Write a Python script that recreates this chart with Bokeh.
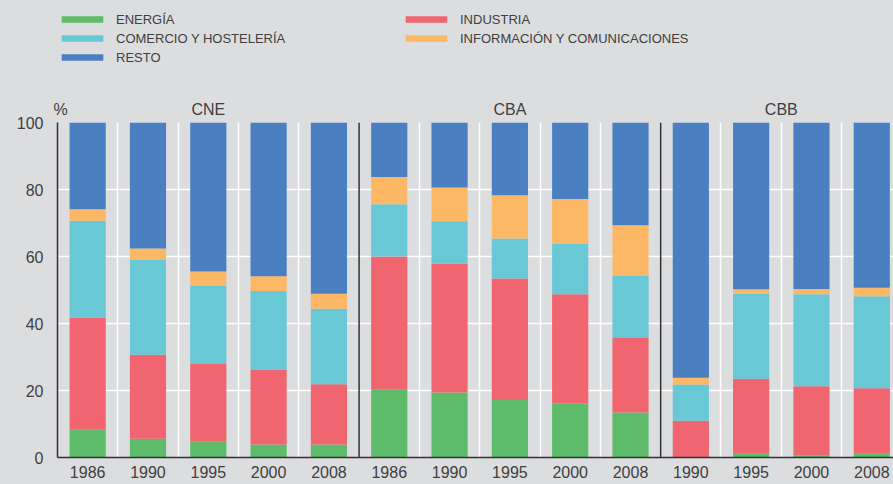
from bokeh.plotting import figure
from bokeh.layouts import column
from bokeh.models import (ColumnDataSource, FixedTicker, Span, Legend, LegendItem,
                          LinearAxis)
from bokeh.embed import file_html
from bokeh.resources import INLINE

# ---- data (%) ----
groups = ["CNE", "CBA", "CBB"]
group_years = [
    ["1986", "1990", "1995", "2000", "2008"],
    ["1986", "1990", "1995", "2000", "2008"],
    ["1990", "1995", "2000", "2008"],
]
energia = [8.3, 5.6, 4.7, 3.9, 3.9,
           20.2, 19.4, 17.2, 16.1, 13.4,
           0.0, 1.1, 0.7, 1.1]
industria = [33.5, 25.1, 23.2, 22.4, 18.0,
             39.8, 38.4, 36.2, 32.6, 22.3,
             11.0, 22.4, 20.6, 19.6]
comercio = [28.9, 28.4, 23.3, 23.4, 22.5,
            15.6, 12.7, 12.0, 15.1, 18.5,
            10.8, 25.4, 27.4, 27.4]
informacion = [3.4, 3.3, 4.3, 4.4, 4.5,
               8.1, 10.1, 12.9, 13.4, 15.1,
               2.0, 1.3, 1.6, 2.6]
resto = [25.9, 37.6, 44.5, 45.9, 51.1,
         16.3, 19.4, 21.7, 22.8, 30.7,
         76.2, 49.8, 49.7, 49.3]

sector_names = ["ENERGÍA", "INDUSTRIA", "COMERCIO Y HOSTELERÍA",
                "INFORMACIÓN Y COMUNICACIONES", "RESTO"]
sector_keys = ["energia", "industria", "comercio", "informacion", "resto"]
colors = ["#5dbb6a", "#f06570", "#68c8d5", "#fdb865", "#4a7fc1"]
y_ticks = [0, 20, 40, 60, 80, 100]
unit_label = "%"

# ---- derived layout ----
year_labels = [y for ys in group_years for y in ys]
xs = [i + 0.5 for i in range(len(year_labels))]
bounds = []
acc = 0
for ys in group_years:
    acc += len(ys)
    bounds.append(acc)
inner = [b for b in range(1, len(year_labels) + 1) if b not in bounds[:-1]]
centers = []
start = 0
for ys in group_years:
    centers.append(start + len(ys) / 2)
    start += len(ys)

source = ColumnDataSource(dict(x=xs, energia=energia, industria=industria,
                               comercio=comercio, informacion=informacion,
                               resto=resto))

BG = "#dcdddf"
FONT = "Liberation Sans"
TXT = "#404040"
LEG_H = 75

# ---------------- main chart ----------------
p = figure(width=893, height=484 - LEG_H, output_backend="svg",
           toolbar_location=None, x_range=(0, 13.86), y_range=(0, 100),
           min_border_left=57, min_border_right=0, min_border_top=122 - LEG_H,
           min_border_bottom=27)
p.background_fill_color = BG
p.border_fill_color = BG
p.outline_line_color = None

renderers = p.vbar_stack(sector_keys, x="x", width=0.6, source=source,
                         color=colors, line_color=None)

p.xaxis.ticker = FixedTicker(ticks=xs)
p.xaxis.major_label_overrides = {x: l for x, l in zip(xs, year_labels)}
p.yaxis.ticker = FixedTicker(ticks=y_ticks)
for ax in (p.xaxis[0], p.yaxis[0]):
    ax.axis_line_color = "#333333"
    ax.axis_line_width = 1.5
    ax.major_tick_line_color = None
    ax.minor_tick_line_color = None
    ax.major_tick_out = 0
    ax.major_tick_in = 0
    ax.major_label_text_font = FONT
    ax.major_label_text_font_size = "16px"
    ax.major_label_text_color = TXT
p.xaxis.major_label_standoff = 8
p.yaxis.major_label_standoff = 14

top_ticks = [0.05] + centers
top_axis = LinearAxis(ticker=FixedTicker(ticks=top_ticks),
                      major_label_overrides={t: l for t, l in
                                             zip(top_ticks, [unit_label] + groups)},
                      axis_line_color=None, major_tick_line_color=None,
                      minor_tick_line_color=None, major_tick_out=0,
                      major_tick_in=0, major_label_standoff=5,
                      major_label_text_font=FONT,
                      major_label_text_font_size="16px",
                      major_label_text_color=TXT)
p.add_layout(top_axis, "above")

p.ygrid.ticker = FixedTicker(ticks=y_ticks)
p.ygrid.grid_line_color = "white"
p.ygrid.grid_line_width = 1.5
p.xgrid.ticker = FixedTicker(ticks=inner)
p.xgrid.grid_line_color = "white"
p.xgrid.grid_line_width = 1.5

for b in bounds[:-1]:
    p.add_layout(Span(location=b, dimension="height", line_color="#333333",
                      line_width=1.5))

# ---------------- legend strip ----------------
lg = figure(width=893, height=LEG_H, output_backend="svg", toolbar_location=None,
            x_range=(0, 1), y_range=(0, 1), min_border=0, min_border_left=57)
lg.axis.visible = False
lg.grid.visible = False
lg.background_fill_color = BG
lg.border_fill_color = BG
lg.outline_line_color = None
swatches = {}
for n, c in zip(sector_names, colors):
    # zero-height bars: only used to draw the legend swatches
    swatches[n] = lg.vbar(x=[0.5], top=[0], bottom=[0], width=0.1,
                          color=c, line_color=None)

# column-major order: left column, then right column
order = ["ENERGÍA", "COMERCIO Y HOSTELERÍA", "RESTO",
         "INDUSTRIA", "INFORMACIÓN Y COMUNICACIONES"]
legend = Legend(items=[LegendItem(label=n, renderers=[swatches[n]]) for n in order],
                location=(-1, LEG_H - 66.5), nrows=3, orientation="vertical",
                glyph_width=52, glyph_height=8, label_standoff=8,
                label_height=19, label_width=284, spacing=0, padding=0,
                margin=0, border_line_color=None, background_fill_alpha=0,
                label_text_font=FONT, label_text_font_size="13px",
                label_text_color=TXT)
lg.add_layout(legend)

layout = column(lg, p, spacing=0, styles={"background-color": BG})
open("out.html", "w").write(file_html(layout, INLINE))
